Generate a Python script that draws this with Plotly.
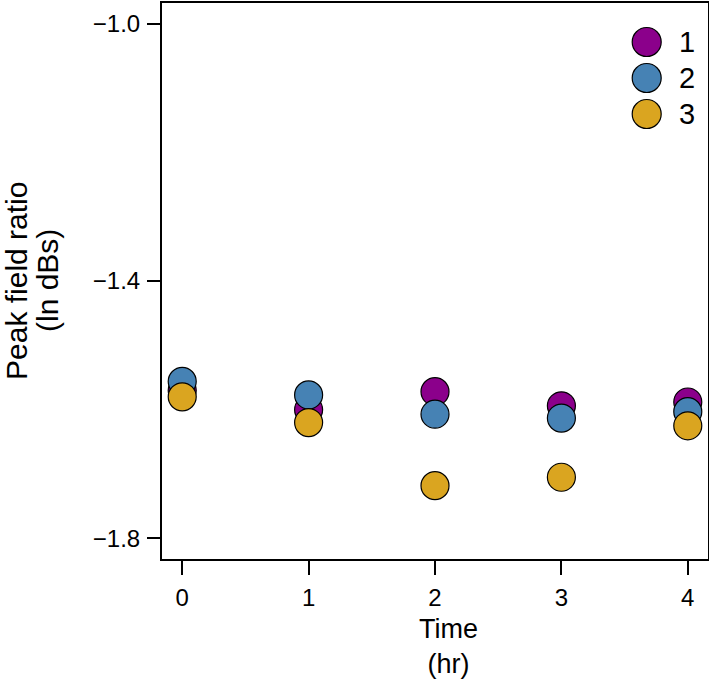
import plotly.graph_objects as go

# Data
time_hr = [0, 1, 2, 3, 4]
series_names = ["1", "2", "3"]
series1 = [-1.570, -1.600, -1.572, -1.594, -1.588]
series2 = [-1.556, -1.577, -1.607, -1.613, -1.603]
series3 = [-1.580, -1.620, -1.718, -1.705, -1.625]
colors = ["#8B008B", "#4682B4", "#DAA520"]

x_ticks = [0, 1, 2, 3, 4]
y_ticks = [-1.8, -1.4, -1.0]
y_ticklabels = ["\u22121.8", "\u22121.4", "\u22121.0"]

FONT = "Liberation Sans, Arial, Helvetica, sans-serif"
W, H = 709, 680
ML, MR, MT, MB = 162, 1, 3, 121
PW, PH = W - ML - MR, H - MT - MB


def px_x(p):
    return (p - ML) / PW


def px_y(q):
    return 1 - (q - MT) / PH


fig = go.Figure()
for name, vals, col in zip(series_names, [series1, series2, series3], colors):
    fig.add_trace(go.Scatter(
        x=time_hr, y=vals, mode="markers", name=name,
        marker=dict(size=28, color=col, line=dict(color="black", width=1.2)),
        showlegend=False,
    ))

# Manual legend (large markers like the reference)
leg_x = px_x(646.7)
leg_y = [px_y(42), px_y(78), px_y(114)]
shapes = []
annotations = []
for name, col, yy in zip(series_names, colors, leg_y):
    shapes.append(dict(
        type="circle", xref="paper", yref="paper",
        xsizemode="pixel", ysizemode="pixel",
        xanchor=leg_x, yanchor=yy,
        x0=-14.5, x1=14.5, y0=-14.5, y1=14.5,
        fillcolor=col, line=dict(color="black", width=1.2), layer="above",
    ))
    annotations.append(dict(
        x=leg_x, y=yy, xref="paper", yref="paper", xshift=30,
        text=name, showarrow=False, xanchor="left", yanchor="middle",
        font=dict(family=FONT, size=29, color="black"),
    ))

# Axis titles
annotations.append(dict(
    x=px_x(448), y=px_y(680), xref="paper", yref="paper",
    text="Time<br>(hr)", showarrow=False, xanchor="center", yanchor="bottom",
    borderpad=0,
    font=dict(family=FONT, size=27, color="black"),
))
for txt, xp in [("Peak field ratio", 16), ("(ln dBs)", 47)]:
    annotations.append(dict(
        x=px_x(xp), y=px_y(281), xref="paper", yref="paper",
        text=txt, showarrow=False, xanchor="center", yanchor="middle",
        textangle=-90, borderpad=0,
        font=dict(family=FONT, size=30, color="black"),
    ))

fig.update_layout(
    width=W, height=H,
    margin=dict(l=ML, r=MR, t=MT, b=MB, autoexpand=False),
    plot_bgcolor="white", paper_bgcolor="white",
    font=dict(family=FONT, color="black"),
    shapes=shapes, annotations=annotations,
    showlegend=False,
)
fig.update_xaxes(
    range=[-0.16, 4.16], tickvals=x_ticks, ticktext=[str(v) for v in x_ticks],
    showgrid=False, zeroline=False,
    showline=True, linecolor="black", linewidth=2, mirror=True,
    ticks="outside", ticklen=14, tickwidth=2, tickcolor="black",
    tickfont=dict(size=24, family=FONT, color="black"),
    ticklabelstandoff=2,
    automargin=False,
)
fig.update_yaxes(
    range=[-1.832, -0.968], tickvals=y_ticks, ticktext=y_ticklabels,
    showgrid=False, zeroline=False,
    showline=True, linecolor="black", linewidth=2, mirror=True,
    ticks="outside", ticklen=13, tickwidth=2, tickcolor="black",
    tickfont=dict(size=24, family=FONT, color="black"),
    ticklabelstandoff=2,
    automargin=False,
)

fig.write_html("out.html", config={"displayModeBar": False},
               post_script="document.body.style.margin='0px';")
